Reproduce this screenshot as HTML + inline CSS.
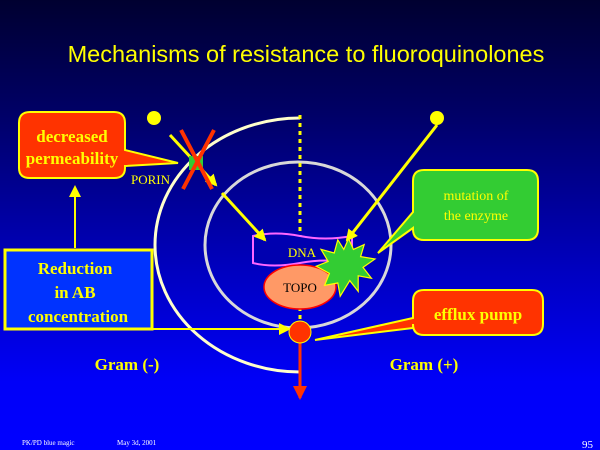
<!DOCTYPE html>
<html><head><meta charset="utf-8"><style>
html,body{margin:0;padding:0;width:600px;height:450px;overflow:hidden}
svg{display:block}
.s{font-family:"Liberation Serif",serif;font-weight:bold;fill:#ffff00}
</style></head><body>
<svg width="600" height="450" viewBox="0 0 600 450" xmlns="http://www.w3.org/2000/svg">
<defs>
<linearGradient id="bg" x1="0" y1="0" x2="0" y2="1">
<stop offset="0" stop-color="#000030"/>
<stop offset="0.25" stop-color="#000066"/>
<stop offset="0.6" stop-color="#0000c0"/>
<stop offset="0.85" stop-color="#0000f8"/>
<stop offset="1" stop-color="#0000ff"/>
</linearGradient>
<marker id="ay" markerWidth="12" markerHeight="12" refX="10" refY="6" orient="auto" markerUnits="userSpaceOnUse" viewBox="0 0 12 12"><path d="M0,0 L12,6 L0,12 z" fill="#ffff00"/></marker>
<marker id="ar" markerWidth="14" markerHeight="14" refX="12" refY="7" orient="auto" markerUnits="userSpaceOnUse" viewBox="0 0 14 14"><path d="M0,0 L14,7 L0,14 z" fill="#ff3300"/></marker>
</defs>
<rect width="600" height="450" fill="url(#bg)"/>
<text x="306" y="62" text-anchor="middle" font-family="Liberation Sans,sans-serif" font-size="23.5" fill="#ffff00">Mechanisms of resistance to fluoroquinolones</text>

<path d="M300,118 A145,127 0 0 0 300,372" fill="none" stroke="#ffffcc" stroke-width="3"/>
<ellipse cx="298" cy="245" rx="93" ry="83" fill="none" stroke="#d8d8d8" stroke-width="3"/>
<line x1="300" y1="115" x2="300" y2="322" stroke="#ffff00" stroke-width="3" stroke-dasharray="4,4"/>

<path d="M253,236 Q275,231 300,236 T352,236 L352,263 Q327,258 300,263 T253,263 Z" fill="#0000b0" stroke="#ff66ff" stroke-width="2"/>
<text x="302" y="257" text-anchor="middle" font-family="Liberation Serif,serif" font-size="13" fill="#ffff00">DNA</text>
<ellipse cx="300" cy="287" rx="36" ry="22" fill="#ff9966" stroke="#ff0000" stroke-width="1.5"/>
<text x="300" y="292" text-anchor="middle" font-family="Liberation Serif,serif" font-size="13" fill="#000">TOPO</text>
<g transform="translate(345,265) scale(1.2) translate(-345,-265)">
<polygon points="348,243 352,252 361,248 358,258 370,260 360,267 367,276 356,274 356,287 349,278 341,291 339,280 328,282 332,272 321,266 331,262 325,252 336,255 339,244 344,252" fill="#33cc33" stroke="#ffff00" stroke-width="1"/>
</g>

<line x1="222" y1="193" x2="265" y2="240" stroke="#ffff00" stroke-width="3" marker-end="url(#ay)"/>
<line x1="437" y1="125" x2="347" y2="240" stroke="#ffff00" stroke-width="3" marker-end="url(#ay)"/>
<line x1="170" y1="135" x2="216" y2="185" stroke="#ffff00" stroke-width="3" marker-end="url(#ay)"/>
<rect x="189" y="156" width="14" height="14" fill="#33cc33"/>
<line x1="181" y1="130" x2="212" y2="189" stroke="#ff3300" stroke-width="4"/>
<line x1="214" y1="130" x2="183" y2="189" stroke="#ff3300" stroke-width="4"/>
<circle cx="154" cy="118" r="7" fill="#ffff00"/>
<circle cx="437" cy="118" r="7" fill="#ffff00"/>
<text x="131" y="184" font-family="Liberation Serif,serif" font-size="13" fill="#ffff00">PORIN</text>

<path d="M30,112 H114 Q125,112 125,123 V150 L178,163 L125,166 V168 Q125,178 114,178 H30 Q19,178 19,168 V123 Q19,112 30,112 Z" fill="#ff3300" stroke="#ffff00" stroke-width="2"/>
<text x="72" y="142" text-anchor="middle" class="s" font-size="17">decreased</text>
<text x="72" y="164" text-anchor="middle" class="s" font-size="17">permeability</text>
<line x1="75" y1="248" x2="75" y2="187" stroke="#ffff00" stroke-width="2" marker-end="url(#ay)"/>

<rect x="5" y="250" width="147" height="79" fill="#0033ff" stroke="#ffff00" stroke-width="3"/>
<text x="75" y="274" text-anchor="middle" class="s" font-size="17">Reduction</text>
<text x="75" y="298" text-anchor="middle" class="s" font-size="17">in AB</text>
<text x="78" y="322" text-anchor="middle" class="s" font-size="17">concentration</text>
<line x1="152" y1="329" x2="289" y2="329" stroke="#ffff00" stroke-width="2" marker-end="url(#ay)"/>

<path d="M424,170 H527 Q538,170 538,181 V229 Q538,240 527,240 H424 Q413,240 413,229 V228 L378,253 L413,212 V181 Q413,170 424,170 Z" fill="#33cc33" stroke="#ffff00" stroke-width="2"/>
<text x="476" y="200" text-anchor="middle" font-family="Liberation Serif,serif" font-size="14" fill="#ffff00">mutation of</text>
<text x="476" y="220" text-anchor="middle" font-family="Liberation Serif,serif" font-size="14" fill="#ffff00">the enzyme</text>

<line x1="300" y1="340" x2="300" y2="398" stroke="#ff3300" stroke-width="3" marker-end="url(#ar)"/>
<circle cx="300" cy="332" r="11" fill="#ff3300" stroke="#ffff00" stroke-width="1"/>
<path d="M424,290 H532 Q543,290 543,301 V324 Q543,335 532,335 H424 Q413,335 413,324 V328 L315,340 L413,318 V301 Q413,290 424,290 Z" fill="#ff3300" stroke="#ffff00" stroke-width="2"/>
<text x="478" y="320" text-anchor="middle" class="s" font-size="17">efflux pump</text>

<text x="127" y="370" text-anchor="middle" class="s" font-size="17">Gram (-)</text>
<text x="424" y="370" text-anchor="middle" class="s" font-size="17">Gram (+)</text>

<text x="22" y="445" font-family="Liberation Serif,serif" font-size="7" fill="#ffffff">PK/PD blue magic</text>
<text x="117" y="445" font-family="Liberation Serif,serif" font-size="7" fill="#ffffff">May 3d, 2001</text>
<text x="582" y="448" font-family="Liberation Serif,serif" font-size="11" fill="#ffffff">95</text>
</svg>
</body></html>
